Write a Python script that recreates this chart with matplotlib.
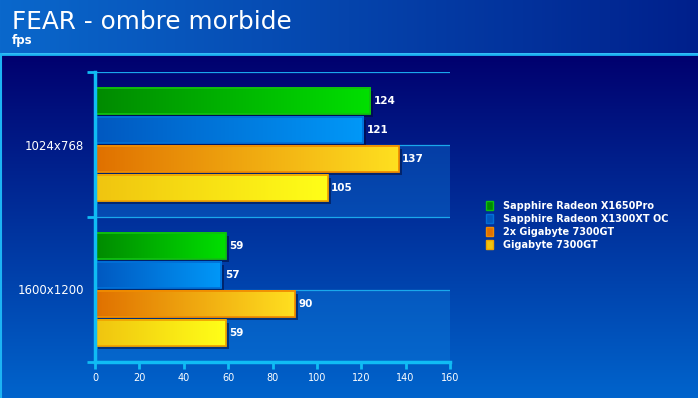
import numpy as np
import matplotlib
matplotlib.use('Agg')
import matplotlib.pyplot as plt
from matplotlib.colors import LinearSegmentedColormap, to_rgb
from matplotlib.patches import Rectangle, Patch
from matplotlib import transforms

# ---- data ----
resolutions = ['1024x768', '1600x1200']
cards = ['Sapphire Radeon X1650Pro', 'Sapphire Radeon X1300XT OC',
         '2x Gigabyte 7300GT', 'Gigabyte 7300GT']
fps_x1650pro = [124, 59]
fps_x1300xt = [121, 57]
fps_2x7300gt = [137, 90]
fps_7300gt = [105, 59]
series = [fps_x1650pro, fps_x1300xt, fps_2x7300gt, fps_7300gt]

# left (dark) -> right (bright) gradient, plus border colour
grad_left = ['#008a00', '#0058c0', '#e07000', '#f0c410']
grad_right = ['#00e000', '#0098f8', '#ffe020', '#ffff18']
edges = ['#10c010', '#0070d8', '#f08c00', '#f0a400']

W, H = 698, 398
fig = plt.figure(figsize=(W / 100, H / 100), dpi=100)

# ---- background: header strip + lower panel ----
bg = fig.add_axes([0, 0, 1, 1])
bg.set_xlim(0, W)
bg.set_ylim(H, 0)
bg.axis('off')

def ramp(c0, c1, n=256):
    a, b = np.array(to_rgb(c0)), np.array(to_rgb(c1))
    t = np.linspace(0, 1, n)[:, None]
    return a + (b - a) * t

head = ramp('#0a68cc', '#00208c')[None, :, :]
bg.imshow(head, extent=(0, W, 53, 0), aspect='auto', interpolation='bilinear')
panel = ramp('#00006e', '#0064cc')[:, None, :]
bg.imshow(panel, extent=(0, W, H, 54), aspect='auto', interpolation='bilinear')
bg.plot([0, W], [53.5, 53.5], color='#1cb4f4', lw=2)
bg.plot([1, 1], [53.5, H], color='#1cb4f4', lw=1.5)
bg.set_xlim(0, W)
bg.set_ylim(H, 0)

fig.text(12 / W, 1 - 29 / H, 'FEAR - ombre morbide', color='white',
         fontsize=17.8, va='baseline', ha='left')
fig.text(12 / W, 1 - 44 / H, 'fps', color='white', fontsize=8.5,
         fontweight='bold', va='baseline', ha='left')

# ---- main axes ----
ax = fig.add_axes([95 / W, 1 - 362 / H, (450 - 95) / W, (362 - 72) / H])
ax.patch.set_alpha(0)

ypos = np.arange(len(resolutions))
offsets = [-0.3, -0.1, 0.1, 0.3]
bh = 0.186

# lighter bands in the lower half of each group
for y in ypos:
    ax.axhspan(y, y + 0.5, color='#1080e0', alpha=0.35, lw=0, zorder=0)
for yl in [-0.5, 0.0, 0.5, 1.0]:
    ax.axhline(yl, color='#1aa8ec', lw=0.9, zorder=1)

shadow = transforms.offset_copy(ax.transData, fig=fig, x=3, y=-3, units='dots')
grad = np.linspace(0, 1, 256)[None, :]
for vals, cl, cr, ec, off in zip(series, grad_left, grad_right, edges, offsets):
    cmap = LinearSegmentedColormap.from_list('g', [cl, cr])
    for y, v in zip(ypos, vals):
        yc = y + off
        ax.add_patch(Rectangle((0, yc - bh / 2), v, bh, transform=shadow,
                               facecolor='#000830', alpha=0.5, lw=0, zorder=2))
        ax.imshow(grad, cmap=cmap, extent=(0, v, yc + bh / 2, yc - bh / 2),
                  aspect='auto', interpolation='bilinear', zorder=3)
        ax.add_patch(Rectangle((0, yc - bh / 2), v, bh, facecolor='none',
                               edgecolor=ec, lw=1.3, zorder=4))
        ax.text(v + 1.5, yc, str(v), color='white', fontsize=7.5,
                fontweight='bold', va='center', ha='left', zorder=5)

ax.set_xlim(0, 160)
ax.set_ylim(1.5, -0.5)

axis_col = '#10bcf4'
for s in ['top', 'right']:
    ax.spines[s].set_visible(False)
for s in ['left', 'bottom']:
    ax.spines[s].set_color(axis_col)
    ax.spines[s].set_linewidth(2.5)
    ax.spines[s].set_zorder(6)

ax.set_xticks(np.arange(0, 161, 20))
ax.tick_params(axis='x', colors=axis_col, labelcolor='white', labelsize=7,
               length=5, width=2, pad=3)
ax.set_yticks([-0.5, 0.5, 1.5])
ax.set_yticklabels([])
ax.tick_params(axis='y', which='major', colors=axis_col, length=6, width=2)
ax.set_yticks(ypos, minor=True)
ax.set_yticklabels(resolutions, minor=True)
ax.tick_params(axis='y', which='minor', length=0, pad=8, labelcolor='white',
               labelsize=8.5)

# ---- legend ----
handles = [Patch(facecolor=cr, edgecolor=ec) for cr, ec in zip(grad_left, edges)]
leg = fig.legend(handles, cards, loc='upper left',
                 bbox_to_anchor=(482 / W, 1 - 197 / H), frameon=False,
                 prop={'size': 7, 'weight': 'bold'}, labelcolor='white',
                 handlelength=0.75, handleheight=1.0, handletextpad=1.0,
                 labelspacing=0.3, borderaxespad=0)

fig.savefig('out.png', dpi=100)
